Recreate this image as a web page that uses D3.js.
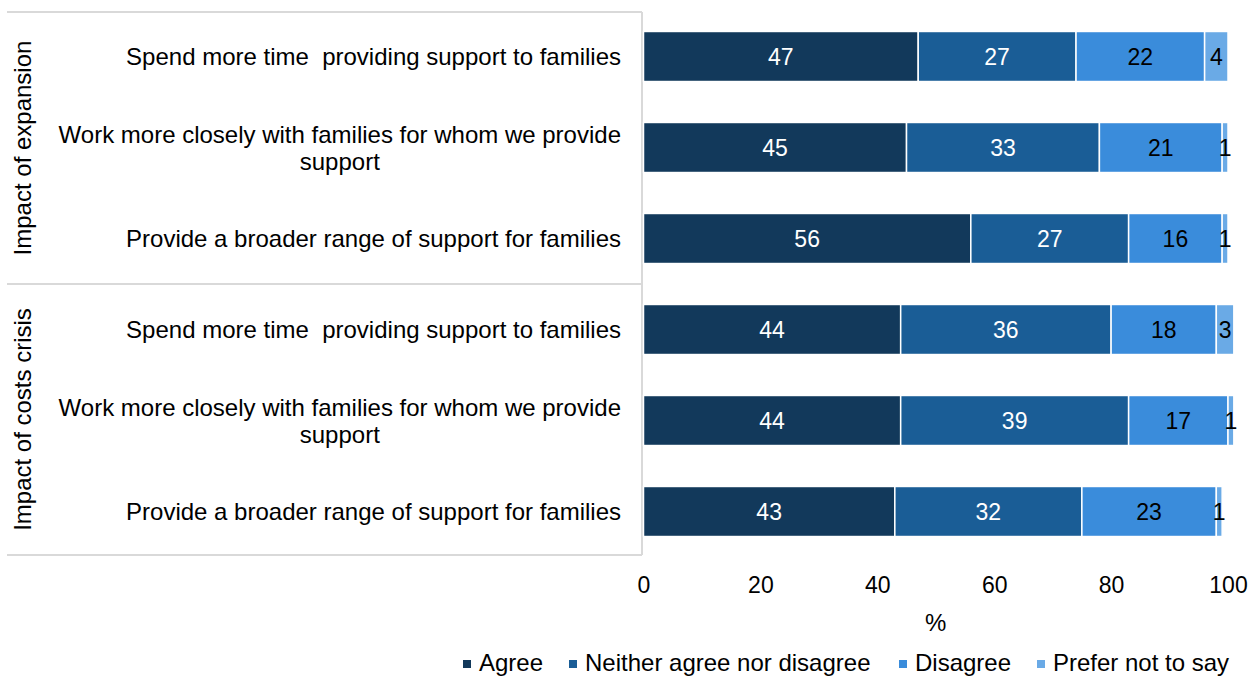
<!DOCTYPE html>
<html>
<head>
<meta charset="utf-8">
<script src="https://cdn.jsdelivr.net/npm/d3@7"></script>
<style>
  html, body { margin: 0; padding: 0; background: #fff; }
  svg { display: block; font-family: "Liberation Sans", Arial, sans-serif; }
  text { white-space: pre; }
</style>
</head>
<body>
<svg id="chart" width="1251" height="677"></svg>
<script>
// Survey statements, grouped by the question they belong to
const groups = ["Impact of expansion", "Impact of costs crisis"];
const statements = [
  ["Spend more time  providing support to families"],
  ["Work more closely with families for whom we provide", "support"],
  ["Provide a broader range of support for families"],
  ["Spend more time  providing support to families"],
  ["Work more closely with families for whom we provide", "support"],
  ["Provide a broader range of support for families"]
];
const rowGroup = [0, 0, 0, 1, 1, 1];

// Response shares (%) for each statement
const series = ["Agree", "Neither agree nor disagree", "Disagree", "Prefer not to say"];
const agree    = [47, 45, 56, 44, 44, 43];
const neither  = [27, 33, 27, 36, 39, 32];
const disagree = [22, 21, 16, 18, 17, 23];
const preferNot = [4, 1, 1, 3, 1, 1];

const xTicks = [0, 20, 40, 60, 80, 100];
const colors = ["#12395b", "#1a5d96", "#3a8cdb", "#6aaae6"];
const labelColors = ["#ffffff", "#ffffff", "#000000", "#000000"];

const rows = statements.map((s, i) => ({
  id: i,
  lines: s,
  group: rowGroup[i],
  vals: [agree[i], neither[i], disagree[i], preferNot[i]]
}));

const svg = d3.select("#chart");
const plot = { left: 643.5, right: 1228, top: 11, bottom: 557 };
const textSize = 24, numSize = 23;

const x = d3.scaleLinear().domain([0, 100]).range([plot.left, plot.right]);
const y = d3.scaleBand().domain(rows.map(r => r.id))
  .range([plot.top, plot.bottom]).paddingInner(0.45).paddingOuter(0.225);

// Category box lines
const grid = "#d9d9d9";
const boxLeft = 7, boxRight = 642;
const groupTop = 12, groupMid = 284, groupBottom = 555;
svg.append("g").attr("stroke", grid).attr("stroke-width", 2)
  .selectAll("line")
  .data([
    [boxLeft, groupTop, boxRight, groupTop],
    [boxLeft, groupMid, boxRight, groupMid],
    [boxLeft, groupBottom, boxRight, groupBottom],
    [boxRight, groupTop, boxRight, groupBottom]
  ])
  .join("line")
  .attr("x1", d => d[0]).attr("y1", d => d[1])
  .attr("x2", d => d[2]).attr("y2", d => d[3]);

// Stacked segments
const stacked = rows.map(r => {
  let acc = 0;
  return r.vals.map((v, k) => {
    const seg = { row: r.id, k, v, x0: acc, x1: acc + v };
    acc += v;
    return seg;
  });
}).flat();

const bars = svg.append("g");
bars.selectAll("rect")
  .data(stacked)
  .join("rect")
  .attr("x", d => x(d.x0))
  .attr("y", d => y(d.row))
  .attr("width", d => x(d.x1) - x(d.x0))
  .attr("height", y.bandwidth())
  .attr("fill", d => colors[d.k])
  .attr("stroke", "#ffffff")
  .attr("stroke-width", 1.5);

bars.selectAll("text")
  .data(stacked)
  .join("text")
  .attr("x", d => (x(d.x0) + x(d.x1)) / 2)
  .attr("y", d => y(d.row) + y.bandwidth() / 2)
  .attr("dy", "0.36em")
  .attr("text-anchor", "middle")
  .attr("font-size", numSize)
  .attr("fill", d => labelColors[d.k])
  .text(d => d.v);

// Statement labels: right-aligned block, lines centred within the block
const labelRight = 621;
const lab = svg.append("g").attr("font-size", textSize).attr("fill", "#000");
rows.forEach(r => {
  const t = lab.append("text").attr("text-anchor", "middle");
  const cy = y(r.id) + y.bandwidth() / 2;
  const n = r.lines.length;
  const lh = 27;
  const tspans = r.lines.map((ln, i) =>
    t.append("tspan").attr("y", cy + (i - (n - 1) / 2) * lh).attr("dy", "0.36em").text(ln));
  const w = d3.max(tspans, s => s.node().getComputedTextLength());
  tspans.forEach(s => s.attr("x", labelRight - w / 2));
});

// Group labels (rotated)
const groupSpans = [[groupTop, groupMid], [groupMid, groupBottom]];
svg.append("g").selectAll("text")
  .data(groups)
  .join("text")
  .attr("transform", (d, i) => `translate(22,${(groupSpans[i][0] + groupSpans[i][1]) / 2}) rotate(-90)`)
  .attr("dy", "0.36em")
  .attr("text-anchor", "middle")
  .attr("font-size", textSize)
  .attr("fill", "#000")
  .text(d => d);

// X axis
const xAxis = d3.axisBottom(x).tickValues(xTicks).tickSize(0).tickPadding(0);
const ax = svg.append("g").attr("transform", "translate(0,585)").call(xAxis);
ax.select(".domain").remove();
ax.selectAll("text")
  .attr("font-family", "'Liberation Sans', Arial, sans-serif")
  .attr("font-size", numSize).attr("fill", "#000").attr("dy", "0.36em").attr("y", 0);

svg.append("text")
  .attr("x", (plot.left + plot.right) / 2)
  .attr("y", 622).attr("dy", "0.36em")
  .attr("text-anchor", "middle").attr("font-size", textSize).attr("fill", "#000")
  .text("%");

// Legend
const legendX = [463, 569, 899, 1037];
const leg = svg.append("g").selectAll("g")
  .data(series)
  .join("g")
  .attr("transform", (d, i) => `translate(${legendX[i]},663)`);
leg.append("rect").attr("x", 0).attr("y", -3).attr("width", 8).attr("height", 8)
  .attr("fill", (d, i) => colors[i]);
leg.append("text").attr("x", 16).attr("dy", "0.34em")
  .attr("font-size", textSize).attr("fill", "#000").text(d => d);
</script>
</body>
</html>
